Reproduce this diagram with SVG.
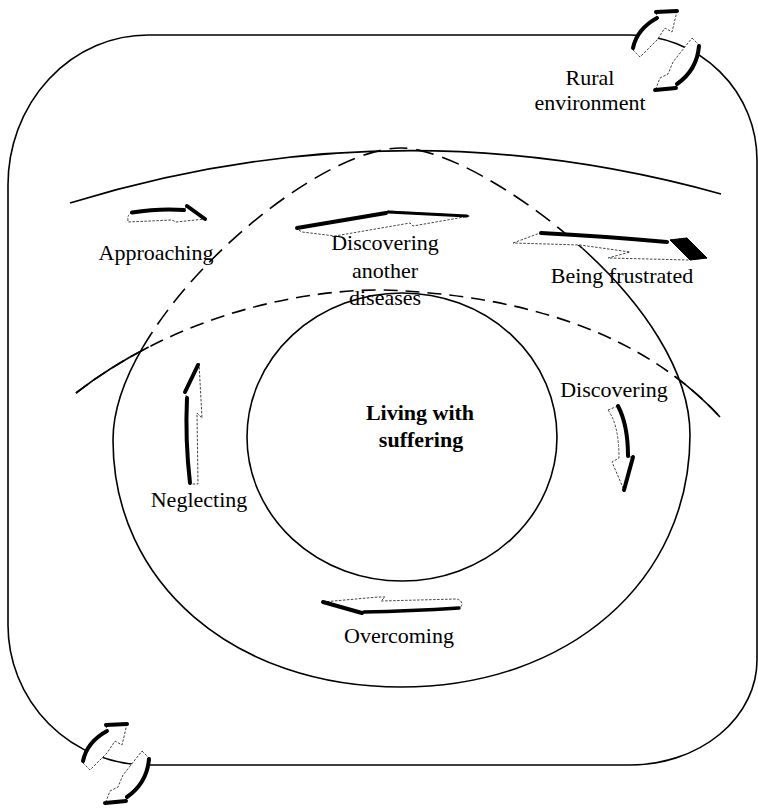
<svg xmlns="http://www.w3.org/2000/svg" xmlns:xlink="http://www.w3.org/1999/xlink" width="758" height="810" viewBox="0 0 758 810">
<style>
.ln{fill:none;stroke:#000;stroke-width:1.6}
.d1{stroke-dasharray:18 9}
.d2{stroke-dasharray:14 8}
.thin{fill:#fff;stroke:#444;stroke-width:1;stroke-dasharray:2.5 1.5}
.thick{fill:none;stroke:#000;stroke-width:4;stroke-linecap:round;stroke-linejoin:round}
.lbl{font-family:"Liberation Serif","Times New Roman",serif;font-size:22px;fill:#000;text-anchor:middle}
.bold{font-weight:bold}
</style>
<defs>
<g id="swap">
<path class="thin" d="M633,50 Q638,29 657,18 L656,12 L677,11 L672,32 L665,28 L657,40 L640,57 Z"/>
<path class="thick" d="M633,48 Q637,29 657,18"/>
<path class="thick" d="M656,12 L677,11"/>
<path class="thin" d="M692,38 L699,45 Q697,70 677,84 L676,89 L655,91 L660,78 L668,74 L673,62 Z"/>
<path class="thick" d="M699,46 Q697,70 677,84"/>
<path class="thick" d="M655,90 L676,88"/>
</g>
</defs>
<rect width="758" height="810" fill="#fff"/>

<g id="boundaries">
<path id="frame" class="ln" d="M148,35 H630 A127,125 0 0 1 757,160 V660 A127,105 0 0 1 630,765 H148 A140,140 0 0 1 8,625 V185 A140,150 0 0 1 148,35 Z"/>
<path id="arc-top" class="ln" d="M70,203 Q395,103 721,194"/>
<path id="ring-upper" class="ln d1" d="M142.9,347.2 C201.5,247.1 331.8,148 401,148 C442.1,148 518.6,190.6 582.6,248.5"/>
<path id="ring-lower" class="ln" d="M582.6,248.5 C641.6,301.9 690,370.2 690,435 C690,581 568.6,687 401,687 C233.4,687 113,583 113,440 C113,410.7 124.4,378.8 142.9,347.2"/>
<path id="arc-inner" class="ln d2" d="M76,393 C190,305 330,285 405,291 C520,298 640,330 720,417"/>
<path id="arc-inner-ends" class="ln" pathLength="100" stroke-dasharray="12.3 79 8.7" d="M76,393 C190,305 330,285 405,291 C520,298 640,330 720,417"/>
</g>

<g id="core">
<ellipse class="ln" cx="402" cy="437" rx="155" ry="144"/>
<text class="lbl bold" x="420" y="420">Living with</text>
<text class="lbl bold" x="421" y="447">suffering</text>
</g>

<g id="connectors">
<g id="rural-arrows">
<use href="#swap" xlink:href="#swap"/>
<use href="#swap" xlink:href="#swap" transform="translate(-550,713)"/>
</g>
</g>

<g id="rural">
<text class="lbl" x="590" y="85">Rural</text>
<text class="lbl" x="590" y="110">environment</text>
</g>

<g id="approaching">
<path class="thin" d="M128,221 Q127,214 132,213 Q160,208 184,210 L187,206 L205,219 L176,222 L172,220 L128,222 Z"/>
<path class="thick" d="M132,212.5 Q160,208 184,210"/>
<path class="thick" d="M187,206 L205,219"/>
<text class="lbl" x="156" y="260">Approaching</text>
</g>

<g id="discovering-another">
<path class="thin" d="M297,229 L386,213 L388,211 L470,216 L413,226 L410,223 L335,236 L302,232 Z"/>
<path class="thick" d="M297,228 L386,213"/>
<path class="thick" style="stroke-width:3" d="M388,212 L467,216"/>
<text class="lbl" x="385" y="250">Discovering</text>
<text class="lbl" x="385" y="278">another</text>
<text class="lbl" x="385" y="305">diseases</text>
</g>

<g id="being-frustrated">
<path class="thin" d="M513,243 L540,233 L668,242 L670,240 L687,238 L707,258 L688,260 L608,258 L630,252 L580,245 Z"/>
<path class="thick" d="M541,233 Q600,236 667,242"/>
<path d="M670,240 L687,238 L707,258 L690,260 Z" fill="#000" stroke="#000" stroke-width="1"/>
<text class="lbl" x="622" y="283">Being frustrated</text>
</g>

<g id="discovering">
<path class="thin" d="M608,410 L618,406 Q628,425 628,457 L633,457 L624,490 L612,462 L619,458 Q619,425 608,410 Z"/>
<path class="thick" d="M618,406 Q628,425 628,456"/>
<path class="thick" d="M633,457 L624,490"/>
<text class="lbl" x="614" y="397">Discovering</text>
</g>

<g id="neglecting">
<path class="thin" d="M199,363 L202,418 L197,413 L198,484 L190,484 Q185,440 187,398 L185,393 Z"/>
<path class="thick" d="M190,483 Q185,440 187,398"/>
<path class="thick" d="M185,392 L198,365"/>
<text class="lbl" x="199" y="507">Neglecting</text>
</g>

<g id="overcoming">
<path class="thin" d="M323,602 L378,597 L385,597 L381,601 L457,599 Q465,602 460,608 Q410,611 364,612 L362,614 Z"/>
<path class="thick" d="M323,602 L362,613"/>
<path class="thick" style="stroke-width:3.5" d="M364,612 Q410,611 459,608"/>
<text class="lbl" x="399" y="643">Overcoming</text>
</g>
</svg>
